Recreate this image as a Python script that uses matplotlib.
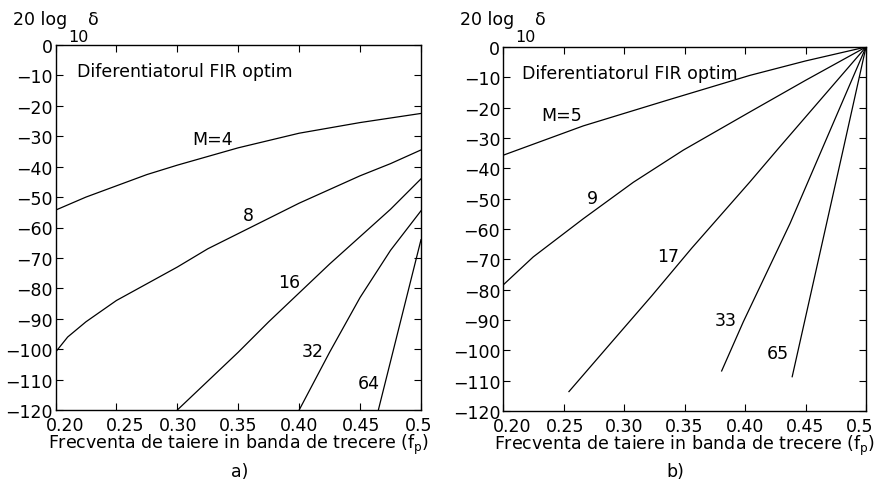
import matplotlib
matplotlib.use("Agg")
import matplotlib.pyplot as plt
import matplotlib.transforms as mtransforms

plt.rcParams['font.family'] = ['DejaVu Sans']
FS = 12.5

# ---- date ----
# a) curbele pentru M = 4, 8, 16, 32, 64
a_M4_x = [0.20, 0.225, 0.25, 0.275, 0.30, 0.35, 0.40, 0.45, 0.50]
a_M4_y = [-54.3, -50.0, -46.3, -42.6, -39.5, -33.8, -29.0, -25.5, -22.5]

a_M8_x = [0.20, 0.21, 0.225, 0.25, 0.275, 0.30, 0.325, 0.35, 0.375, 0.40, 0.425, 0.45, 0.475, 0.50]
a_M8_y = [-101, -96, -91, -84, -78.5, -73, -67, -62, -57, -52, -47.5, -43, -39, -34.5]

a_M16_x = [0.30, 0.325, 0.35, 0.375, 0.40, 0.425, 0.45, 0.475, 0.50]
a_M16_y = [-120, -110.5, -101, -91, -81.5, -72, -63, -54, -44]

a_M32_x = [0.40, 0.425, 0.45, 0.475, 0.50]
a_M32_y = [-120, -101, -83, -67.5, -54.5]

a_M64_x = [0.465, 0.50]
a_M64_y = [-120, -64]

# b) curbele pentru M = 5, 9, 17, 33, 65
b_M5_x = [0.20, 0.2664, 0.3353, 0.4041, 0.45, 0.50]
b_M5_y = [-35.7, -26.0, -17.6, -9.35, -4.6, 0.0]

b_M9_x = [0.20, 0.225, 0.2664, 0.3077, 0.349, 0.4041, 0.45, 0.50]
b_M9_y = [-78.5, -69.2, -56.6, -44.6, -34.0, -21.4, -11.0, 0.0]

b_M17_x = [0.2545, 0.29, 0.323, 0.356, 0.404, 0.4275, 0.50]
b_M17_y = [-113.6, -97.2, -82.0, -66.3, -44.5, -33.5, 0.0]

b_M33_x = [0.3807, 0.3986, 0.4372, 0.50]
b_M33_y = [-106.8, -90.6, -58.2, 0.0]

b_M65_x = [0.439, 0.4813, 0.50]
b_M65_y = [-108.7, -33.5, 0.0]

# etichete pe curbe: (text, x, y)
a_labels = [("M=4", 0.329, -31), ("8", 0.358, -56), ("16", 0.392, -78),
            ("32", 0.411, -100.7), ("64", 0.457, -111)]
b_labels = [("M=5", 0.2485, -22.5), ("9", 0.274, -49.7), ("17", 0.3366, -69),
            ("33", 0.384, -90), ("65", 0.4275, -101)]

xticks = [0.20, 0.25, 0.30, 0.35, 0.40, 0.45, 0.50]
xtick_labels = ["0.20", "0.25", "0.30", "0.35", "0.40", "0.45", "0.5"]
yticks = list(range(0, -130, -10))

W, H = 875, 485
fig = plt.figure(figsize=(W / 100, H / 100), dpi=100)


def px_axes(l, t, r, b):
    return fig.add_axes([l / W, 1 - b / H, (r - l) / W, (b - t) / H])


def stil_axe(ax, x_titlu, shifts):
    ax.set_xlim(0.2, 0.5)
    ax.set_ylim(-120, 0)
    ax.set_xticks(xticks)
    ax.set_xticklabels(xtick_labels)
    ax.set_yticks(yticks)
    ax.tick_params(direction='in', length=5, width=0.8, top=True, right=True,
                   labelsize=FS, pad=2)
    ax.tick_params(axis='x', pad=4)
    for s in ax.spines.values():
        s.set_linewidth(1.0)
    # etichetele x in MATLAB sunt usor deplasate
    for lab, dx in zip(ax.get_xticklabels(), shifts):
        lab.set_transform(lab.get_transform() +
                          mtransforms.ScaledTranslation(dx / 100, 0, fig.dpi_scale_trans))
    ax.set_xlabel("Frecventa de taiere in banda de trecere (f$_\\mathrm{p}$)",
                  fontsize=FS, labelpad=-1)
    ax.text(x_titlu, -8.5, "Diferentiatorul FIR optim", fontsize=FS, va='center')


def ylab(x0):
    fig.text(x0 / W, 1 - 20 / H, "20 log", fontsize=FS, va='center')
    fig.text((x0 + 55) / W, 1 - 38 / H, "10", fontsize=FS - 1, va='center')
    fig.text((x0 + 75) / W, 1 - 20 / H, "δ", fontsize=FS, va='center')


lw = 0.9

# a)
ax1 = px_axes(55.5, 46, 421, 411)
ax1.plot(a_M4_x, a_M4_y, 'k-', lw=lw)
ax1.plot(a_M8_x, a_M8_y, 'k-', lw=lw)
ax1.plot(a_M16_x, a_M16_y, 'k-', lw=lw)
ax1.plot(a_M32_x, a_M32_y, 'k-', lw=lw)
ax1.plot(a_M64_x, a_M64_y, 'k-', lw=lw)
stil_axe(ax1, 0.218, [10, 9, 1, 0, 0, 1, -2])
for txt, x, y in a_labels:
    ax1.text(x, y, txt, ha='center', va='center', fontsize=FS)
ylab(13)
fig.text(240 / W, 1 - 472 / H, "a)", fontsize=FS, ha='center', va='center')

# b)
ax2 = px_axes(503, 48, 866, 412)
ax2.plot(b_M5_x, b_M5_y, 'k-', lw=lw)
ax2.plot(b_M9_x, b_M9_y, 'k-', lw=lw)
ax2.plot(b_M17_x, b_M17_y, 'k-', lw=lw)
ax2.plot(b_M33_x, b_M33_y, 'k-', lw=lw)
ax2.plot(b_M65_x, b_M65_y, 'k-', lw=lw)
stil_axe(ax2, 0.216, [9, 2, 0, 0, 0, 0, -6])
for txt, x, y in b_labels:
    ax2.text(x, y, txt, ha='center', va='center', fontsize=FS)
ylab(460)
fig.text(675 / W, 1 - 472 / H, "b)", fontsize=FS, ha='center', va='center')

fig.savefig("out.png", dpi=100)
